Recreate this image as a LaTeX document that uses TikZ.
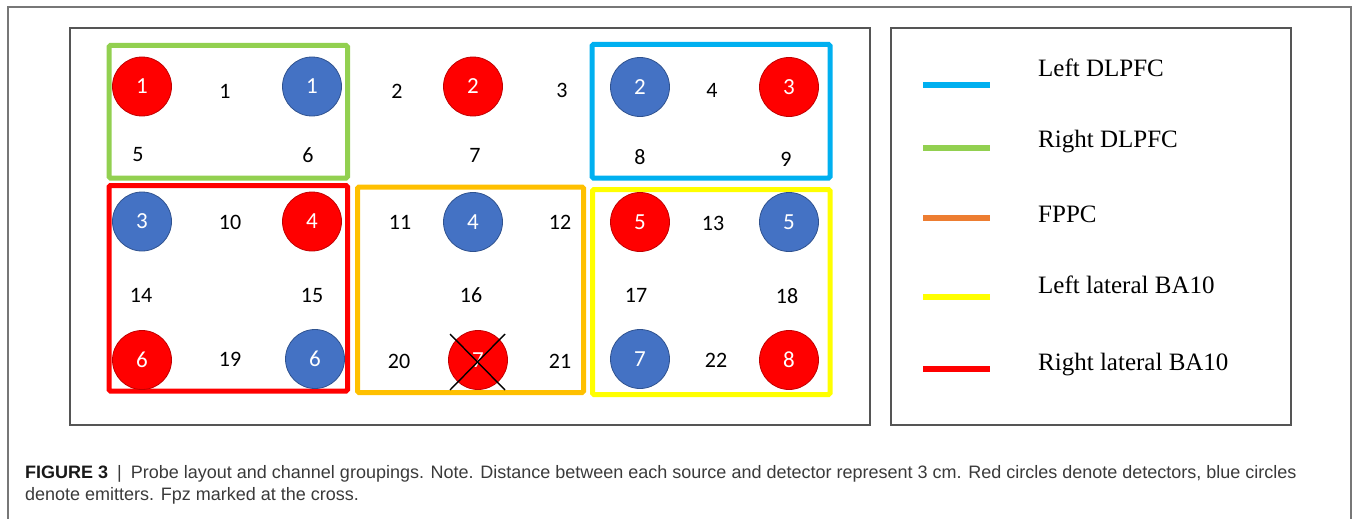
\documentclass[tikz,border=0pt]{standalone}
\usepackage{fontspec}
\setmainfont{Liberation Serif}
\newfontfamily\numfont{Carlito}
\newfontfamily\capfont{Liberation Sans}
\definecolor{detred}{HTML}{FF0000}
\definecolor{detline}{HTML}{C00000}
\definecolor{emblue}{HTML}{4472C4}
\definecolor{emline}{HTML}{2F528F}
\definecolor{grgreen}{HTML}{92D050}
\definecolor{grblue}{HTML}{00B0F0}
\definecolor{grred}{HTML}{FF0000}
\definecolor{grorange}{HTML}{FFC000}
\definecolor{gryellow}{HTML}{FFFF00}
\definecolor{legorange}{HTML}{ED7D31}
\definecolor{framegray}{HTML}{555555}
\definecolor{captext}{HTML}{3A3A3A}
\begin{document}
\begin{tikzpicture}[x=1pt,y=-1pt,
  probe/.style={circle, minimum size=59pt, inner sep=0pt, line width=0.8pt, text=white,
    font=\numfont\fontsize{23}{23}\selectfont},
  det/.style={probe, fill=detred, draw=detline},
  emit/.style={probe, fill=emblue, draw=emline},
  ch/.style={inner sep=0pt, text=black, font=\numfont\fontsize{22}{22}\selectfont},
  grp/.style={line width=5pt, rounded corners=1.5pt},
  panel/.style={draw=framegray, line width=1.4pt},
  legline/.style={line width=6pt},
  legtxt/.style={anchor=base west, inner sep=0pt, font=\fontsize{25}{25}\selectfont},
  captxt/.style={anchor=base west, inner sep=0pt, text=captext, font=\capfont\fontsize{18}{18}\selectfont}
]
\useasboundingbox (0,0) rectangle (1354,519);
% outer frame (open at bottom)
\draw[panel, draw=framegray!80] (8,530) -- (8,7) -- (1351,7) -- (1351,530);
% panels
\node[panel, draw, minimum width=800pt, minimum height=397pt, inner sep=0pt] (plot) at (470,226.5) {};
\node[panel, draw, minimum width=400pt, minimum height=397pt, inner sep=0pt] (legend) at (1091,226.5) {};

% group boxes
\draw[grp, grgreen]  (109,45.5) rectangle (347.5,178);
\draw[grp, grblue]   (592,44.5) rectangle (830,178);
\draw[grp, grred]    (109,185.5) rectangle (347.5,391);
\draw[grp, grorange] (357.5,187) rectangle (583.5,392.5);
\draw[grp, gryellow] (592.5,189.5) rectangle (830,394.5);

% probes
\node[det]  (d1) at (142,86.5) {1};
\node[emit] (e1) at (312,86.5) {1};
\node[det]  (d2) at (473,86.5) {2};
\node[emit] (e2) at (640,87) {2};
\node[det]  (d3) at (789,87) {3};
\node[emit] (e3) at (142,221.5) {3};
\node[det]  (d4) at (312,221.5) {4};
\node[emit] (e4) at (473,222) {4};
\node[det]  (d5) at (640,222) {5};
\node[emit] (e5) at (789,222) {5};
\node[det]  (d6) at (142,360) {6};
\node[emit] (e6) at (315,359) {6};
\node[det]  (d7) at (478,360) {7};
\node[emit] (e7) at (640,359) {7};
\node[det]  (d8) at (789,360) {8};
% cross at Fpz
\coordinate (x1) at (450,334);
\coordinate (x2) at (505,390);
\coordinate (x3) at (505,334);
\coordinate (x4) at (450,390);
\draw[line width=1.4pt] (x1) -- (x2);
\draw[line width=1.4pt] (x3) -- (x4);

% channels
\node[ch] (c1)  at (225,91) {1};
\node[ch] (c2)  at (397,91) {2};
\node[ch] (c3)  at (562,90) {3};
\node[ch] (c4)  at (712,90) {4};
\node[ch] (c5)  at (138,155) {5};
\node[ch] (c6)  at (308,155) {6};
\node[ch] (c7)  at (475,155) {7};
\node[ch] (c8)  at (640,157) {8};
\node[ch] (c9)  at (786,159) {9};
\node[ch] (c10) at (230,222) {10};
\node[ch] (c11) at (400,222) {11};
\node[ch] (c12) at (560,222) {12};
\node[ch] (c13) at (713,223) {13};
\node[ch] (c14) at (141,295) {14};
\node[ch] (c15) at (312,295) {15};
\node[ch] (c16) at (471,295) {16};
\node[ch] (c17) at (636,295) {17};
\node[ch] (c18) at (787,296) {18};
\node[ch] (c19) at (230,359) {19};
\node[ch] (c20) at (399,361) {20};
\node[ch] (c21) at (560,361) {21};
\node[ch] (c22) at (716,360) {22};

% legend
\foreach \n/\y/\c in {a/85/grblue, b/148/grgreen, c/218/legorange, d/297/gryellow, e/369/grred}{
  \coordinate (l\n s) at (923,\y);
  \coordinate (l\n e) at (990,\y);
  \draw[legline, \c] (l\n s) -- (l\n e);
}
\node[legtxt] (t1) at (1038,77) {Left DLPFC};
\node[legtxt] (t2) at (1038,147) {Right DLPFC};
\node[legtxt] (t3) at (1038,222) {FPPC};
\node[legtxt] (t4) at (1038,293) {Left lateral BA10};
\node[legtxt] (t5) at (1038,370) {Right lateral BA10};

% caption
\node[captxt] (cap1) at (25,478) {{\color{black!90}\bfseries FIGURE 3}\enspace|\enspace Probe layout and channel groupings. Note. Distance between each source and detector represent 3 cm. Red circles denote detectors, blue circles};
\node[captxt] (cap2) at (25,500) {denote emitters. Fpz marked at the cross.};
\end{tikzpicture}
\end{document}
